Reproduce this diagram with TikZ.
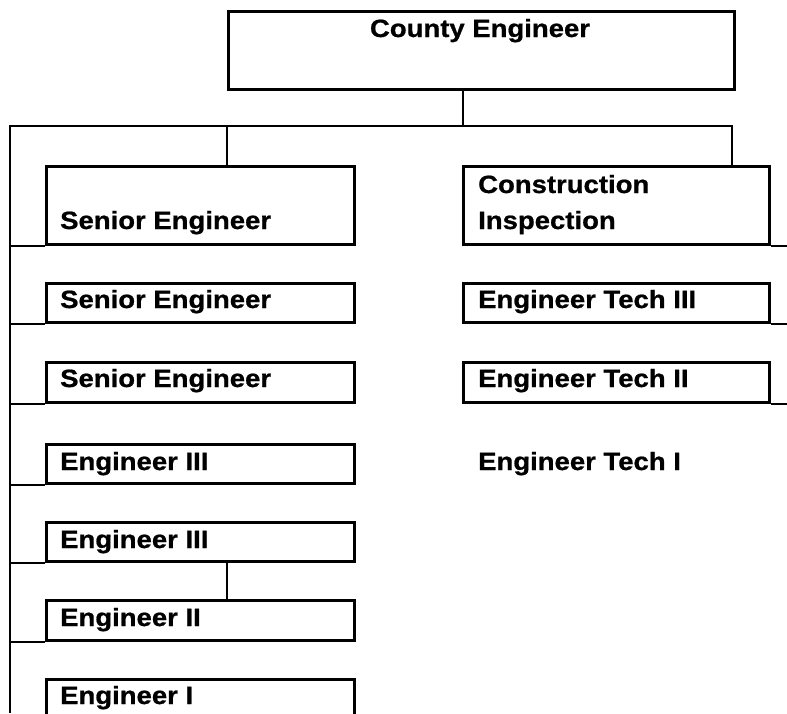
\documentclass[tikz,border=0pt]{standalone}
\usepackage{fontspec}
\setmainfont{Liberation Sans}[FakeStretch=1.1,FakeBold=0.8]
\begin{document}
\begin{tikzpicture}[x=1pt,y=-1pt,
  box/.style={draw, line width=3pt, anchor=north west, inner sep=0pt, minimum width=#1},
  box/.default=308pt,
  lbl/.style={anchor=base west, inner sep=0pt, font=\fontsize{25}{29}\selectfont\bfseries},
  wire/.style={line width=2.8pt}]
\useasboundingbox (0,0) rectangle (787,713);
\clip (0,0) rectangle (787,713);
\fill[white] (0,0) rectangle (787,713);

% top box
\node[box=506pt, minimum height=78pt] (ce) at (227,10) {};
\node[lbl, anchor=base] (cet) at (480,37) {County Engineer};

% left column
\node[box, minimum height=78pt] (se1) at (45,165) {};
\node[lbl] (se1t) at (60,229) {Senior Engineer};
\node[box, minimum height=39pt] (se2) at (45,282) {};
\node[lbl] (se2t) at (60,308) {Senior Engineer};
\node[box, minimum height=40pt] (se3) at (45,361) {};
\node[lbl] (se3t) at (60,387) {Senior Engineer};
\node[box, minimum height=39pt] (e3a) at (45,443) {};
\node[lbl] (e3at) at (60,470) {Engineer III};
\node[box, minimum height=39pt] (e3b) at (45,521) {};
\node[lbl] (e3bt) at (60,548) {Engineer III};
\node[box, minimum height=40pt] (e2) at (45,599) {};
\node[lbl] (e2t) at (60,626) {Engineer II};
\node[box, minimum height=40pt] (e1) at (45,678) {};
\node[lbl] (e1t) at (60,704) {Engineer I};

% right column
\node[box=306pt, minimum height=78pt] (ci) at (462,165) {};
\node[lbl] (cit1) at (478,193) {Construction};
\node[lbl] (cit2) at (478,229) {Inspection};
\node[box=306pt, minimum height=39pt] (t3) at (462,282) {};
\node[lbl] (t3t) at (478,308) {Engineer Tech III};
\node[box=306pt, minimum height=40pt] (t2) at (462,361) {};
\node[lbl] (t2t) at (478,387) {Engineer Tech II};
\node[lbl] (t1t) at (478,470) {Engineer Tech I};

% connector points
\coordinate (trunk) at (463,126);
\coordinate (busL) at (10,126);
\coordinate (busR) at (732,126);
\coordinate (drop) at (227,126);
\coordinate (spineEnd) at (10,713);
\coordinate (redge) at (787,0);

\draw[wire] (trunk |- ce.south) -- (trunk);
\draw[wire] (spineEnd) -- (busL) -- (busR) -- (busR |- ci.north);
\draw[wire] (drop) -- (drop |- se1.north);
\foreach \n in {se1,se2,se3,e3a,e3b,e2}
  \draw[wire] (\n.south west) -- (\n.south west -| busL);
\foreach \n in {ci,t3,t2}
  \draw[wire] (\n.south east) -- (\n.south east -| redge);
\draw[wire] (drop |- e3b.south) -- (drop |- e2.north);
\end{tikzpicture}
\end{document}
